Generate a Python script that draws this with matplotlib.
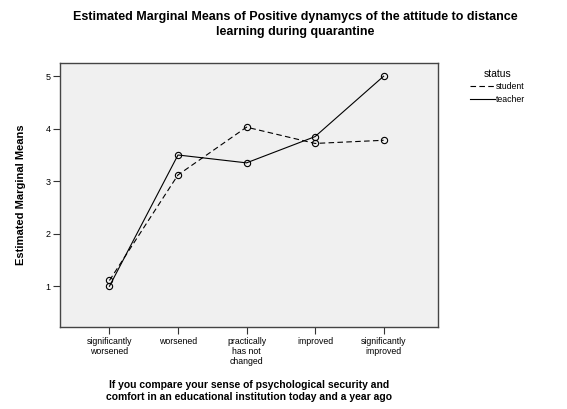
import matplotlib
matplotlib.use('Agg')
import matplotlib.pyplot as plt
from matplotlib.lines import Line2D

plt.rcParams['font.family'] = ['Liberation Sans', 'DejaVu Sans']

# ── data ──
categories = ['significantly\nworsened', 'worsened', 'practically\nhas not\nchanged',
              'improved', 'significantly\nimproved']
student = [1.11, 3.12, 4.03, 3.72, 3.78]
teacher = [1.00, 3.50, 3.35, 3.85, 5.00]
y_ticks = [1, 2, 3, 4, 5]

title = ('Estimated Marginal Means of Positive dynamycs of the attitude to distance\n'
         'learning during quarantine')
xlabel = ('If you compare your sense of psychological security and\n'
          'comfort in an educational institution today and a year ago')
ylabel = 'Estimated Marginal Means'

fig = plt.figure(figsize=(5.67, 4.09), dpi=100)
fig.patch.set_facecolor('white')
ax = fig.add_axes([0.106, 0.2, 0.666, 0.647])
ax.set_facecolor('#f0f0f0')

x = list(range(1, len(categories) + 1))
ax.plot(x, student, color='black', lw=0.8, ls=(0, (5, 3)),
        marker='o', mfc='none', mec='black', ms=4.5, mew=0.8)
ax.plot(x, teacher, color='black', lw=0.8, ls='-',
        marker='o', mfc='none', mec='black', ms=4.5, mew=0.8)

ax.set_xlim(0.28, 5.79)
ax.set_ylim(0.22, 5.26)
ax.set_xticks(x)
ax.set_xticklabels(categories, fontsize=6.3, linespacing=1.15)
ax.set_yticks(y_ticks)
ax.set_yticklabels([str(v) for v in y_ticks], fontsize=6.5)
ax.tick_params(direction='out', length=5, width=0.8, color='#333333', pad=2)
for s in ax.spines.values():
    s.set_color('#444444')
    s.set_linewidth(1.0)

ax.set_xlabel(xlabel, fontsize=7.5, fontweight='bold', labelpad=10, linespacing=1.25)
ax.set_ylabel(ylabel, fontsize=8, fontweight='bold', labelpad=14)
fig.text(0.52, 0.94, title, ha='center', va='center', fontsize=9,
         fontweight='bold', linespacing=1.3)

handles = [Line2D([], [], color='black', lw=0.8, ls=(0, (5, 3))),
           Line2D([], [], color='black', lw=0.8, ls='-')]
leg = ax.legend(handles, ['student', 'teacher'], title='status', loc='upper left',
                bbox_to_anchor=(1.07, 1.0), frameon=False, fontsize=6.3,
                title_fontsize=7.5, handlelength=2.8, handletextpad=0.1,
                labelspacing=0.4, borderaxespad=0.3)

fig.savefig('out.png', dpi=100)
